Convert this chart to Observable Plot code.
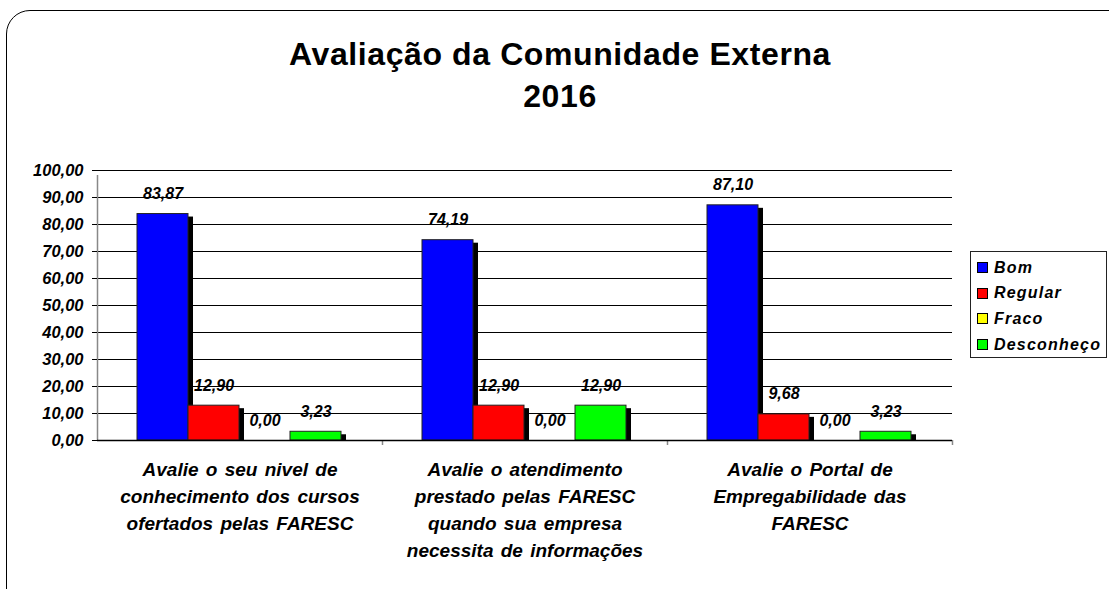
<!DOCTYPE html>
<html>
<head>
<meta charset="utf-8">
<script src="https://cdn.jsdelivr.net/npm/d3@7"></script>
<script src="https://cdn.jsdelivr.net/npm/@observablehq/plot@0.6"></script>
<style>
  html, body { margin: 0; padding: 0; background: #fff; overflow: hidden; }
  #wrap { position: relative; width: 1109px; height: 589px; overflow: hidden; font-family: "Liberation Sans", Arial, sans-serif; }
  #border { position: absolute; left: 6px; top: 10px; width: 1130px; height: 610px; border: 1px solid #000; border-radius: 24px; box-sizing: border-box; }
  #title { position: absolute; left: 0; top: 33px; width: 1120px; text-align: center; font-weight: bold; font-size: 32px; letter-spacing: 0.6px; line-height: 42px; color: #000; }
  #chart { position: absolute; left: 0; top: 0; }
  #legend { position: absolute; left: 970px; top: 251px; width: 137px; height: 107px; border: 1px solid #222; box-sizing: border-box; background: #fff; padding-top: 3px; }
  .item { height: 25.6px; display: flex; align-items: center; padding-left: 6px; font-weight: bold; font-style: italic; font-size: 16px; letter-spacing: 1.2px; white-space: nowrap; }
  .sw { width: 9px; height: 9px; border: 1px solid #000; margin-right: 6px; flex: none; }
  svg text { word-spacing: 2px; }
</style>
</head>
<body>
<div id="wrap">
  <div id="border"></div>
  <div id="title">Avaliação da Comunidade Externa<br>2016</div>
  <div id="chart"></div>
  <div id="legend"></div>
</div>
<script>
const groups = [
  "Avalie o seu nivel de\nconhecimento dos cursos\nofertados pelas FARESC",
  "Avalie o atendimento\nprestado pelas FARESC\nquando sua empresa\nnecessita de informações",
  "Avalie o Portal de\nEmpregabilidade das\nFARESC"
];
const series = ["Bom", "Regular", "Fraco", "Desconheço"];
const colors = ["#0000ff", "#ff0000", "#ffff00", "#00ff00"];
const bom = [83.87, 74.19, 87.10];
const regular = [12.90, 12.90, 9.68];
const fraco = [0.00, 0.00, 0.00];
const desconheco = [3.23, 12.90, 3.23];
const yTicks = [0, 10, 20, 30, 40, 50, 60, 70, 80, 90, 100];

const valuesBySeries = [bom, regular, fraco, desconheco];
const data = [];
groups.forEach((g, gi) => {
  series.forEach((s, si) => {
    data.push({group: g, gi, series: s, si, value: valuesBySeries[si][gi]});
  });
});

// dodge bars inside each group: 4 bars with outer padding
const outer = 40 / 285, bw = 51 / 285;
const x1 = d => d.gi + outer + d.si * bw;
const x2 = d => d.gi + outer + (d.si + 1) * bw;
const xc = d => d.gi + outer + (d.si + 0.5) * bw;
const fmt = v => v.toFixed(2).replace(".", ",");
const bounds = groups.map((g, i) => i + 1);

const font = {fontWeight: "bold", fontStyle: "italic"};

const plot = Plot.plot({
  width: 1109,
  height: 589,
  marginLeft: 97,
  marginRight: 157,
  marginTop: 170,
  marginBottom: 149,
  style: {fontFamily: "'Liberation Sans', Arial, sans-serif", background: "transparent", overflow: "visible"},
  x: {type: "linear", domain: [0, groups.length], axis: null},
  y: {type: "linear", domain: [0, 100], axis: null},
  color: {domain: series, range: colors},
  marks: [
    Plot.ruleY(yTicks, {y: d => d, x1: () => 0, x2: () => groups.length, stroke: "#000", strokeWidth: 1}),
    Plot.ruleX([0], {x: d => d, y1: () => 0, y2: () => 100, insetBottom: -5, stroke: "#888", strokeWidth: 1.5}),
    Plot.ruleX(bounds, {x: d => d, y1: () => 0, y2: () => 0, insetBottom: -5, stroke: "#888", strokeWidth: 1.5}),
    Plot.ruleY(yTicks, {y: d => d, x1: () => 0, x2: () => 0, insetLeft: -5, stroke: "#000"}),
    Plot.text(yTicks, {y: d => d, x: () => 0, text: d => fmt(d), textAnchor: "end", dx: -14, fontSize: 16.5, ...font, letterSpacing: "1.2px", fill: "#000"}),
    // shadows
    Plot.rectY(data.filter(d => d.value > 0), {x1, x2, y1: () => 0, y2: "value", dx: 5, insetTop: 3, fill: "#000"}),
    // bars
    Plot.rectY(data.filter(d => d.value > 0), {x1, x2, y1: () => 0, y2: "value", fill: "series", stroke: "#222", strokeWidth: 1}),
    Plot.ruleY([0], {y: d => d, x1: () => 0, x2: () => groups.length, stroke: "#000", strokeWidth: 1.5}),
    // value labels
    Plot.text(data, {x: xc, y: "value", text: d => fmt(d.value), dy: -20, dx: 0, fontSize: 16, ...font, letterSpacing: "1.1px", fill: "#000"}),
    // group labels
    Plot.text(groups, {x: (d, i) => i + 0.5, y: () => 0, text: d => d, lineAnchor: "top", dy: 16, lineHeight: 1.42, fontSize: 19, ...font, letterSpacing: "2px", fill: "#000"})
  ]
});
document.getElementById("chart").appendChild(plot);

// legend
const leg = document.getElementById("legend");
series.forEach((s, i) => {
  const it = document.createElement("div");
  it.className = "item";
  const sw = document.createElement("span");
  sw.className = "sw";
  sw.style.background = colors[i];
  it.appendChild(sw);
  it.appendChild(document.createTextNode(s));
  leg.appendChild(it);
});
</script>
</body>
</html>
